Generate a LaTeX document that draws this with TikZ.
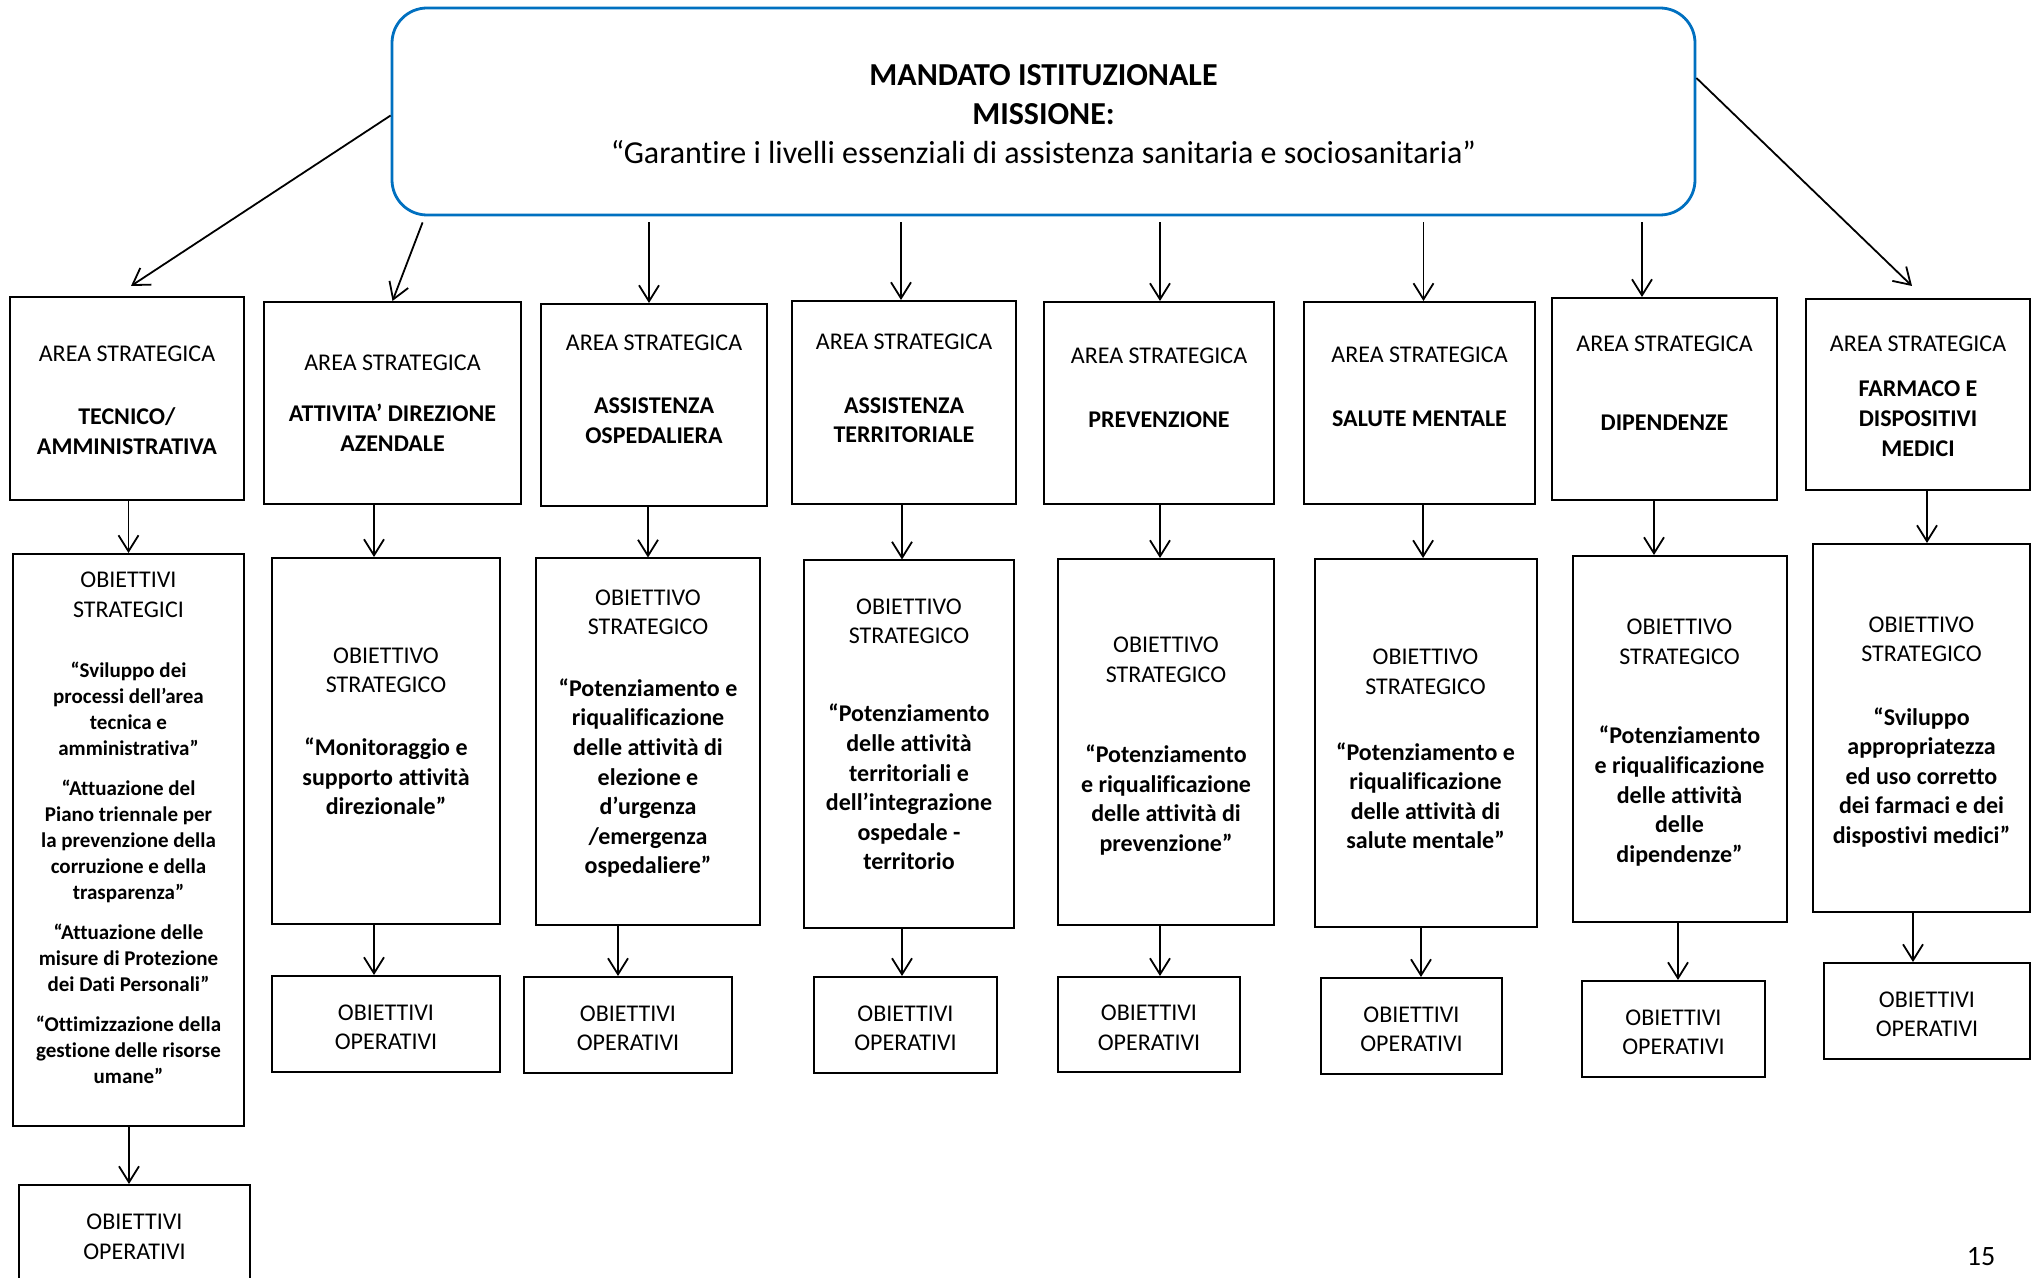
\documentclass[tikz,border=0pt]{standalone}
\usepackage{fontspec}
\setmainfont{Carlito}[Ligatures={TeX,NoCommon}]
\usetikzlibrary{arrows.meta}
\setlength{\parindent}{0pt}

\definecolor{mandateblue}{HTML}{0070C0}
\newcommand{\regfont}{\fontsize{12}{14.8}\selectfont}
\newcommand{\smallbold}{\fontsize{10.5}{13}\selectfont\bfseries}
\newcommand{\topfont}{\fontsize{16}{19.7}\selectfont}
\newcommand{\opslabel}{\rule{0pt}{11pt}OBIETTIVI\\OPERATIVI}

\tikzset{
    boxframe/.style={draw, line width=1pt, inner sep=0pt},
    boxtext/.style={align=flush center, text width=150pt, inner sep=0pt, font=\regfont},
    opbox/.style={boxframe, align=center, font=\regfont},
    link/.style={-{Straight Barb[length=8pt,width=10pt]}, line width=0.9pt},
}

\begin{document}
\begin{tikzpicture}[x=0.5pt, y=-0.5pt]
    % Page
    \useasboundingbox (0,0) rectangle (2031,1278);
    \fill[white] (0,0) rectangle (2031,1278);
    \clip (0,0) rectangle (2031,1278);

    % Mandate
    \node[draw=mandateblue, line width=1.4pt, rounded corners=17.5pt, minimum width=651.5pt, minimum height=103.5pt,
          align=center, font=\topfont] (mandate) at (1043.5,111.5)
        {\rule{0pt}{13.2pt}\textbf{MANDATO ISTITUZIONALE}\\\textbf{MISSIONE:}\\“Garantire i livelli essenziali di assistenza sanitaria e sociosanitaria”};

    % Strategic areas
    \node[boxframe, minimum width=117pt, minimum height=101.5pt] (area1) at (127,398.5) {};
    \node[boxframe, minimum width=128.5pt, minimum height=101pt] (area2) at (392.5,403) {};
    \node[boxframe, minimum width=113pt, minimum height=101pt] (area3) at (654,405) {};
    \node[boxframe, minimum width=112pt, minimum height=101.5pt] (area4) at (904,402.5) {};
    \node[boxframe, minimum width=115pt, minimum height=101pt] (area5) at (1159,403) {};
    \node[boxframe, minimum width=115.5pt, minimum height=101pt] (area6) at (1419.5,403) {};
    \node[boxframe, minimum width=112.5pt, minimum height=101pt] (area7) at (1664.5,399) {};
    \node[boxframe, minimum width=112pt, minimum height=95.5pt] (area8) at (1918,394.5) {};

    \node[boxtext] (area1txt) at (127,400) {AREA STRATEGICA\\[17pt]\textbf{TECNICO/}\\\textbf{AMMINISTRATIVA}};
    \node[boxtext] (area2txt) at (392.5,403) {AREA STRATEGICA\\[11pt]\textbf{ATTIVITA’ DIREZIONE}\\\textbf{AZENDALE}};
    \node[boxtext] (area3txt) at (654,389) {AREA STRATEGICA\\[17pt]\textbf{ASSISTENZA}\\\textbf{OSPEDALIERA}};
    \node[boxtext] (area4txt) at (904,388.5) {AREA STRATEGICA\\[17pt]\textbf{ASSISTENZA}\\\textbf{TERRITORIALE}};
    \node[boxtext] (area5txt) at (1159,387.5) {AREA STRATEGICA\\[17pt]\textbf{PREVENZIONE}};
    \node[boxtext] (area6txt) at (1419.5,387) {AREA STRATEGICA\\[17pt]\textbf{SALUTE MENTALE}};
    \node[boxtext] (area7txt) at (1664.5,383) {AREA STRATEGICA\\[24.5pt]\textbf{DIPENDENZE}};
    \node[boxtext] (area8txt) at (1918,396) {AREA STRATEGICA\\[8pt]\textbf{FARMACO E}\\\textbf{DISPOSITIVI}\\\textbf{MEDICI}};

    % Strategic goals
    \node[boxframe, minimum width=115.5pt, minimum height=286pt] (goal1) at (128.5,840) {};
    \node[boxframe, minimum width=114pt, minimum height=183pt] (goal2) at (386,741) {};
    \node[boxframe, minimum width=112pt, minimum height=183pt] (goal3) at (648,741.5) {};
    \node[boxframe, minimum width=105pt, minimum height=183.5pt] (goal4) at (909,744) {};
    \node[boxframe, minimum width=108pt, minimum height=183pt] (goal5) at (1166,742) {};
    \node[boxframe, minimum width=111pt, minimum height=184pt] (goal6) at (1425.5,743) {};
    \node[boxframe, minimum width=107pt, minimum height=183pt] (goal7) at (1679.5,739) {};
    \node[boxframe, minimum width=108.5pt, minimum height=184pt] (goal8) at (1921.5,728) {};

    \node[boxtext] (goal1txt) at (128.5,828) {OBIETTIVI\\STRATEGICI\par
        \vspace{17pt}{\smallbold “Sviluppo dei\\processi dell’area\\tecnica e\\amministrativa”\par}
        \vspace{7pt}{\smallbold “Attuazione del\\Piano triennale per\\la prevenzione della\\corruzione e della\\trasparenza”\par}
        \vspace{7pt}{\smallbold “Attuazione delle\\misure di Protezione\\dei Dati Personali”\par}
        \vspace{7pt}{\smallbold “Ottimizzazione della\\gestione delle risorse\\umane”\par}};
    \node[boxtext] (goal2txt) at (386,731.3) {OBIETTIVO\\STRATEGICO\\[16.5pt]{\bfseries “Monitoraggio e\\supporto attività\\direzionale”}};
    \node[boxtext] (goal3txt) at (648,733.6) {OBIETTIVO\\STRATEGICO\\[16pt]{\bfseries “Potenziamento e\\riqualificazione\\delle attività di\\elezione e\\d’urgenza\\/emergenza\\ospedaliere”}};
    \node[boxtext] (goal4txt) at (909,734.3) {OBIETTIVO\\STRATEGICO\\[24.3pt]{\bfseries “Potenziamento\\delle attività\\territoriali e\\dell’integrazione\\ospedale -\\territorio}};
    \node[boxtext] (goal5txt) at (1166,746.2) {OBIETTIVO\\STRATEGICO\\[25.3pt]{\bfseries “Potenziamento\\e riqualificazione\\delle attività di\\prevenzione”}};
    \node[boxtext] (goal6txt) at (1425.5,749.3) {OBIETTIVO\\STRATEGICO\\[18pt]{\bfseries “Potenziamento e\\riqualificazione\\delle attività di\\salute mentale”}};
    \node[boxtext] (goal7txt) at (1679.5,742.6) {OBIETTIVO\\STRATEGICO\\[25pt]{\bfseries “Potenziamento\\e riqualificazione\\delle attività\\delle\\dipendenze”}};
    \node[boxtext] (goal8txt) at (1921.5,732) {OBIETTIVO\\STRATEGICO\\[16.8pt]{\bfseries “Sviluppo\\appropriatezza\\ed uso corretto\\dei farmaci e dei\\dispostivi medici”}};

    % Operational goals
    \node[opbox, minimum width=115.5pt, minimum height=48.5pt] (ops1) at (134.5,1233.5) {\opslabel};
    \node[opbox, minimum width=114pt, minimum height=48pt] (ops2) at (386,1024) {\opslabel};
    \node[opbox, minimum width=104pt, minimum height=48pt] (ops3) at (628,1025) {\opslabel};
    \node[opbox, minimum width=91.5pt, minimum height=48pt] (ops4) at (905.5,1025) {\opslabel};
    \node[opbox, minimum width=91pt, minimum height=47.5pt] (ops5) at (1149,1024.5) {\opslabel};
    \node[opbox, minimum width=90.5pt, minimum height=48pt] (ops6) at (1411.5,1026) {\opslabel};
    \node[opbox, minimum width=91.5pt, minimum height=48pt] (ops7) at (1673.5,1029) {\opslabel};
    \node[opbox, minimum width=103pt, minimum height=48pt] (ops8) at (1927,1011) {\opslabel};

    % Mandate to strategic areas
    \draw[link] ([yshift=-2pt]mandate.west) -- ([shift={(2pt,5pt)}]area1.north);
    \draw[link] ([shift={(16pt,-3pt)}]mandate.south west) -- (area2.north);
    \draw[link, shorten <=3pt] ([xshift=-2.5pt]area3.north |- mandate.south) -- ([xshift=-2.5pt]area3.north);
    \draw[link, shorten <=3pt] ([xshift=-1.5pt]area4.north |- mandate.south) -- ([xshift=-1.5pt]area4.north);
    \draw[link, shorten <=3pt] ([xshift=0.5pt]area5.north |- mandate.south) -- ([xshift=0.5pt]area5.north);
    \draw[link, shorten <=3pt] ([xshift=2pt]area6.north |- mandate.south) -- ([xshift=2pt]area6.north);
    \draw[link, shorten <=3pt] ([xshift=-11.25pt]area7.north |- mandate.south) -- ([xshift=-11.25pt]area7.north);
    \draw[link] ([yshift=16.75pt]mandate.east) -- ([shift={(-3pt,6pt)}]area8.north);

    % Strategic areas to strategic goals
    \draw[link] (goal1.north |- area1.south) -- (goal1.north);
    \draw[link] ([xshift=-6pt]goal2.north |- area2.south) -- ([xshift=-6pt]goal2.north);
    \draw[link] (goal3.north |- area3.south) -- (goal3.north);
    \draw[link] ([xshift=-3.5pt]goal4.north |- area4.south) -- ([xshift=-3.5pt]goal4.north);
    \draw[link] ([xshift=-3pt]goal5.north |- area5.south) -- ([xshift=-3pt]goal5.north);
    \draw[link] ([xshift=-1.2pt]goal6.north |- area6.south) -- ([xshift=-1.2pt]goal6.north);
    \draw[link] ([xshift=-12.75pt]goal7.north |- area7.south) -- ([xshift=-12.75pt]goal7.north);
    \draw[link] ([xshift=2.75pt]goal8.north |- area8.south) -- ([xshift=2.75pt]goal8.north);

    % Strategic goals to operational goals
    \draw[link] ([xshift=-2.75pt]ops1.north |- goal1.south) -- ([xshift=-2.75pt]ops1.north);
    \draw[link] ([xshift=-6pt]ops2.north |- goal2.south) -- ([xshift=-6pt]ops2.north);
    \draw[link] ([xshift=-5pt]ops3.north |- goal3.south) -- ([xshift=-5pt]ops3.north);
    \draw[link] ([xshift=-1.75pt]ops4.north |- goal4.south) -- ([xshift=-1.75pt]ops4.north);
    \draw[link] ([xshift=5.5pt]ops5.north |- goal5.south) -- ([xshift=5.5pt]ops5.north);
    \draw[link] ([xshift=4.75pt]ops6.north |- goal6.south) -- ([xshift=4.75pt]ops6.north);
    \draw[link] ([xshift=2.25pt]ops7.north |- goal7.south) -- ([xshift=2.25pt]ops7.north);
    \draw[link] ([xshift=-7pt]ops8.north |- goal8.south) -- ([xshift=-7pt]ops8.north);

    % Page number
    \node[font=\fontsize{14}{16}\selectfont] (pagenum) at (1981,1257) {15};
\end{tikzpicture}
\end{document}
